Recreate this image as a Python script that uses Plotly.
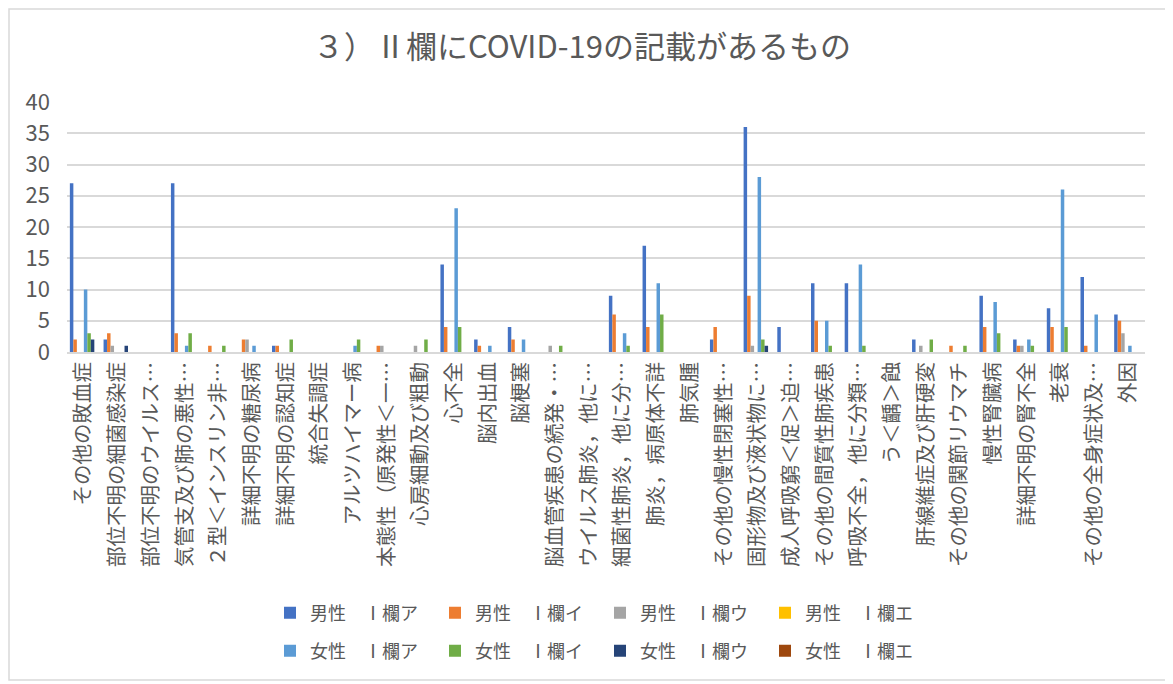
import plotly.graph_objects as go

# categories (x-axis labels as shown, truncated ones keep the ellipsis)
categories = [
    "その他の敗血症", "部位不明の細菌感染症", "部位不明のウイルス…", "気管支及び肺の悪性…",
    "２型＜インスリン非…", "詳細不明の糖尿病", "詳細不明の認知症", "統合失調症",
    "アルツハイマー病", "本態性（原発性＜一…", "心房細動及び粗動", "心不全",
    "脳内出血", "脳梗塞", "脳血管疾患の続発・…", "ウイルス肺炎，他に…",
    "細菌性肺炎，他に分…", "肺炎，病原体不詳", "肺気腫", "その他の慢性閉塞性…",
    "固形物及び液状物に…", "成人呼吸窮＜促＞迫…", "その他の間質性肺疾患", "呼吸不全，他に分類…",
    "う＜齲＞蝕", "肝線維症及び肝硬変", "その他の関節リウマチ", "慢性腎臓病",
    "詳細不明の腎不全", "老衰", "その他の全身症状及…", "外因",
]

male_a = [27, 2, 0, 27, 0, 0, 1, 0, 0, 0, 0, 14, 2, 4, 0, 0, 9, 17, 0, 2, 36, 4, 11, 11, 0, 2, 0, 9, 2, 7, 12, 6]
male_i = [2, 3, 0, 3, 1, 2, 1, 0, 0, 1, 0, 4, 1, 2, 0, 0, 6, 4, 0, 4, 9, 0, 5, 0, 0, 0, 1, 4, 1, 4, 1, 5]
male_u = [0, 1, 0, 0, 0, 2, 0, 0, 0, 1, 1, 0, 0, 0, 1, 0, 0, 0, 0, 0, 1, 0, 0, 0, 0, 1, 0, 0, 1, 0, 0, 3]
male_e = [0] * 32
female_a = [10, 0, 0, 1, 0, 1, 0, 0, 1, 0, 0, 23, 1, 2, 0, 0, 3, 11, 0, 0, 28, 0, 5, 14, 0, 0, 0, 8, 2, 26, 6, 1]
female_i = [3, 0, 0, 3, 1, 0, 2, 0, 2, 0, 2, 4, 0, 0, 1, 0, 1, 6, 0, 0, 2, 0, 1, 1, 0, 2, 1, 3, 1, 4, 0, 0]
female_u = [2, 1, 0, 0, 0, 0, 0, 0, 0, 0, 0, 0, 0, 0, 0, 0, 0, 0, 0, 0, 1, 0, 0, 0, 0, 0, 0, 0, 0, 0, 0, 0]
female_e = [0] * 32

series = [
    ("男性　Ⅰ欄ア", male_a, "#4472C4", "legend"),
    ("男性　Ⅰ欄イ", male_i, "#ED7D31", "legend"),
    ("男性　Ⅰ欄ウ", male_u, "#A5A5A5", "legend"),
    ("男性　Ⅰ欄エ", male_e, "#FFC000", "legend"),
    ("女性　Ⅰ欄ア", female_a, "#5B9BD5", "legend2"),
    ("女性　Ⅰ欄イ", female_i, "#70AD47", "legend2"),
    ("女性　Ⅰ欄ウ", female_u, "#264478", "legend2"),
    ("女性　Ⅰ欄エ", female_e, "#9E480E", "legend2"),
]

FONT = "Noto Sans CJK JP, Noto Sans, sans-serif"
TXT = "#595959"

fig = go.Figure()
for name, vals, color, lg in series:
    fig.add_trace(go.Bar(x=categories, y=vals, name=name, marker_color=color,
                         marker_line_width=0, legend=lg))

# the page body has an 8px margin, so work in page pixels and shift
OFF = 8
W, H = 1173 - OFF, 684 - OFF
L, R, T, B = 67, 1145, 102, 352          # plot area, page pixels
pw, ph = R - L, B - T


def px(x):
    return (x - L) / pw


def py(y):
    return (B - y) / ph


legend_common = dict(orientation="h", xanchor="center", yanchor="middle",
                     font=dict(family=FONT, size=18, color=TXT),
                     entrywidth=120, entrywidthmode="pixels",
                     bgcolor="rgba(0,0,0,0)", itemclick=False)

fig.update_layout(
    width=W, height=H,
    margin=dict(l=L - OFF, r=1173 - R, t=T - OFF, b=684 - B),
    paper_bgcolor="white", plot_bgcolor="white",
    font=dict(family=FONT, color=TXT),
    title=dict(text="３）Ⅱ欄にCOVID-19の記載があるもの", x=px(582), xref="paper",
               xanchor="center", y=1 - (47 - OFF) / H, yanchor="middle",
               font=dict(family=FONT, size=31, color=TXT)),
    barmode="group", bargap=0.17, bargroupgap=0,
    legend=dict(x=px(600), y=py(613), **legend_common),
    legend2=dict(x=px(600), y=py(651), **legend_common),
    shapes=[dict(type="rect", xref="paper", yref="paper",
                 x0=px(9), x1=px(1168), y0=py(680), y1=py(9),
                 line=dict(color="#D9D9D9", width=1.5), layer="below")],
)

fig.update_yaxes(range=[0, 40], dtick=5, showgrid=True, gridcolor="#D9D9D9", gridwidth=1.5,
                 zeroline=False, showline=False, ticks="", ticklabelstandoff=16,
                 tickfont=dict(family=FONT, size=22, color=TXT))
fig.update_xaxes(showline=True, linecolor="#D9D9D9", linewidth=1.5, ticks="",
                 tickangle=-90, tickfont=dict(family=FONT, size=20.5, color=TXT))

fig.write_html("out.html")
